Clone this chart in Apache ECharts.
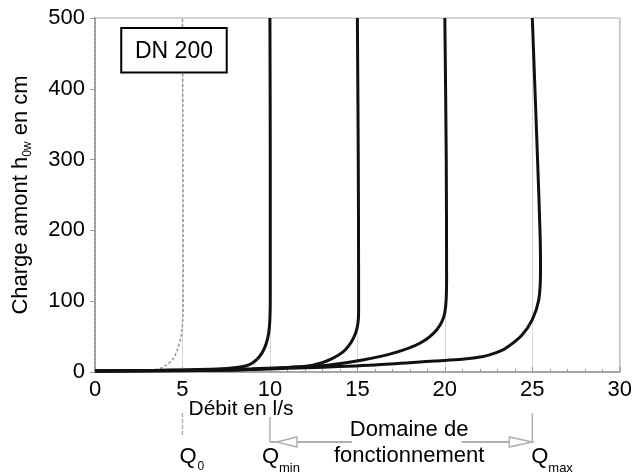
<!DOCTYPE html>
<html>
<head>
<meta charset="utf-8">
<script src="https://cdn.jsdelivr.net/npm/echarts@6/dist/echarts.min.js"></script>
<style>html,body{margin:0;padding:0;background:#fff}#c{width:635px;height:474px}</style>
</head>
<body>
<div id="c"></div>
<script>
// Data
const xTicks = [0, 5, 10, 15, 20, 25, 30];
const yTicks = [0, 100, 200, 300, 400, 500];
const q0X = [0, 2.5, 3.2, 3.7, 4.1, 4.45, 4.7, 4.95, 5.05, 5.0];
const q0Y = [1, 1.5, 2.5, 5, 10, 18, 31, 55, 102, 500];
const c10X = [0, 3.7, 7.5, 8.8, 9.55, 9.93, 10.02, 10.02, 10.0];
const c10Y = [1.5, 2.5, 5, 10, 27, 55, 102, 300, 500];
const c15X = [0, 6, 9, 11.5, 12.5, 13.4, 14.3, 14.9, 15.07, 15.07, 15.05, 15.0];
const c15Y = [1.5, 3, 4.5, 7, 10, 17, 31, 55, 84, 130, 300, 500];
const c20X = [0, 8, 11.5, 13.4, 15.3, 17.1, 18.6, 19.55, 20.0, 20.1, 20.08, 20.0];
const c20Y = [1.5, 3, 7, 10, 17, 27, 41, 60, 84, 130, 300, 500];
const c25X = [0, 8, 12, 16, 19.4, 21.0, 22.2, 22.9, 23.5, 24.4, 25.0, 25.37, 25.47, 25.45, 25.3, 25.0];
const c25Y = [1.5, 3, 6, 10, 15.6, 18, 22, 27, 34, 52, 74, 102, 144, 190, 300, 500];
const markX = { q0: 5, qmin: 10, qmax: 25 };

const FONT = "'Liberation Sans', Arial, sans-serif";
const zip = (xs, ys) => xs.map((x, i) => [x, ys[i]]);
const chart = echarts.init(document.getElementById('c'));

const blackLine = (name, xs, ys) => ({
  name, type: 'line', data: zip(xs, ys), showSymbol: false, smooth: 0.3,
  lineStyle: { color: '#111', width: 3 }, z: 5
});

chart.setOption({
  animation: false,
  grid: { left: 95, right: 4, top: 18, bottom: 102, show: true, borderColor: '#aaa', borderWidth: 1 },
  xAxis: {
    type: 'value', min: 0, max: 30, interval: 5,
    axisLine: { show: true, lineStyle: { color: '#999', width: 1.5 } },
    axisTick: { show: true, inside: true, length: 5, lineStyle: { color: '#999' } },
    minorTick: { show: true, splitNumber: 5, length: 3, lineStyle: { color: '#999' } },
    splitLine: { show: true, lineStyle: { color: '#d8d8d8', width: 1 } },
    axisLabel: { color: '#000', fontSize: 22, fontFamily: FONT, margin: 7,
      formatter: v => xTicks.includes(v) ? String(v) : '' }
  },
  yAxis: {
    type: 'value', min: 0, max: 500, interval: 100,
    name: '{a|Charge amont h}{s|0w}{a| en cm}',
    nameLocation: 'middle', nameGap: 60, nameRotate: 90,
    nameTextStyle: {
      color: '#000', fontFamily: FONT,
      rich: {
        a: { fontSize: 22, lineHeight: 28, fontFamily: FONT, color: '#000' },
        s: { fontSize: 12, lineHeight: 13, padding: [14, 0, 0, 0], fontFamily: FONT, color: '#000' }
      }
    },
    axisLine: { show: true, lineStyle: { color: '#999', width: 2, type: [2, 2] } },
    axisTick: { show: true, inside: false, length: 5, lineStyle: { color: '#999' } },
    splitLine: { show: false },
    axisLabel: { color: '#000', fontSize: 22, fontFamily: FONT, margin: 10,
      formatter: v => yTicks.includes(v) ? String(v) : '' }
  },
  series: [
    { name: 'Q0', type: 'line', data: zip(q0X, q0Y), showSymbol: false, smooth: 0.3,
      lineStyle: { color: '#999', width: 1.5, type: [3, 2] }, z: 4 },
    blackLine('10', c10X, c10Y),
    blackLine('15', c15X, c15Y),
    blackLine('20', c20X, c20Y),
    blackLine('25', c25X, c25Y)
  ]
});

const px = v => chart.convertToPixel({ xAxisIndex: 0 }, v);
const py = v => chart.convertToPixel({ yAxisIndex: 0 }, v);
const y0 = py(0);
const x0 = px(markX.q0), x1 = px(markX.qmin), x2 = px(markX.qmax);
const ay = y0 + 70;
const gray = '#b0b0b0';
const txt = (x, y, text, size, align) => ({ type: 'text', x, y, z: 20, style: { text, fill: '#000', font: size + 'px ' + FONT, align: align || 'left', verticalAlign: 'middle' } });
const boxL = px(1.5), boxR = px(7.53), boxT = py(486), boxB = py(423);

chart.setOption({
  graphic: [
    { type: 'rect', z: 10, shape: { x: boxL, y: boxT, width: boxR - boxL, height: boxB - boxT }, style: { fill: '#fff', stroke: '#000', lineWidth: 2 } },
    txt((boxL + boxR) / 2, (boxT + boxB) / 2 + 1, 'DN 200', 23, 'center'),
    txt(x0 + 6, y0 + 37, 'Débit en l/s', 21),
    // guide lines below axis
    { type: 'line', shape: { x1: x0, y1: y0 + 41, x2: x0, y2: y0 + 65 }, style: { stroke: gray, lineWidth: 1.5, lineDash: [4, 2] } },
    { type: 'line', shape: { x1: x1, y1: y0 + 45, x2: x1, y2: ay }, style: { stroke: gray, lineWidth: 1.5 } },
    { type: 'line', shape: { x1: x2, y1: y0 + 41, x2: x2, y2: ay }, style: { stroke: gray, lineWidth: 1.5 } },
    // arrow segments
    { type: 'line', shape: { x1: x1, y1: ay, x2: x1 + 82, y2: ay }, style: { stroke: gray, lineWidth: 2 } },
    { type: 'line', shape: { x1: x2 - 71, y1: ay, x2: x2, y2: ay }, style: { stroke: gray, lineWidth: 2 } },
    { type: 'polygon', z: 12, shape: { points: [[x1 + 7, ay], [x1 + 27, ay - 5], [x1 + 27, ay + 5]] }, style: { fill: '#fff', stroke: gray, lineWidth: 1.5 } },
    { type: 'polygon', z: 12, shape: { points: [[x2, ay], [x2 - 23, ay - 5], [x2 - 23, ay + 5]] }, style: { fill: '#fff', stroke: gray, lineWidth: 1.5 } },
    txt((x1 + x2) / 2 + 8, y0 + 58, 'Domaine de', 22, 'center'),
    txt((x1 + x2) / 2 + 8, y0 + 84, 'fonctionnement', 22, 'center'),
    // Q labels
    txt(x0 - 3, y0 + 85, 'Q', 22), txt(x0 + 15, y0 + 95, '0', 12),
    txt(x1 - 8, y0 + 85, 'Q', 22), txt(x1 + 9, y0 + 96, 'min', 13),
    txt(x2 - 1, y0 + 85, 'Q', 22), txt(x2 + 16, y0 + 96, 'max', 13)
  ]
});
</script>
</body>
</html>
